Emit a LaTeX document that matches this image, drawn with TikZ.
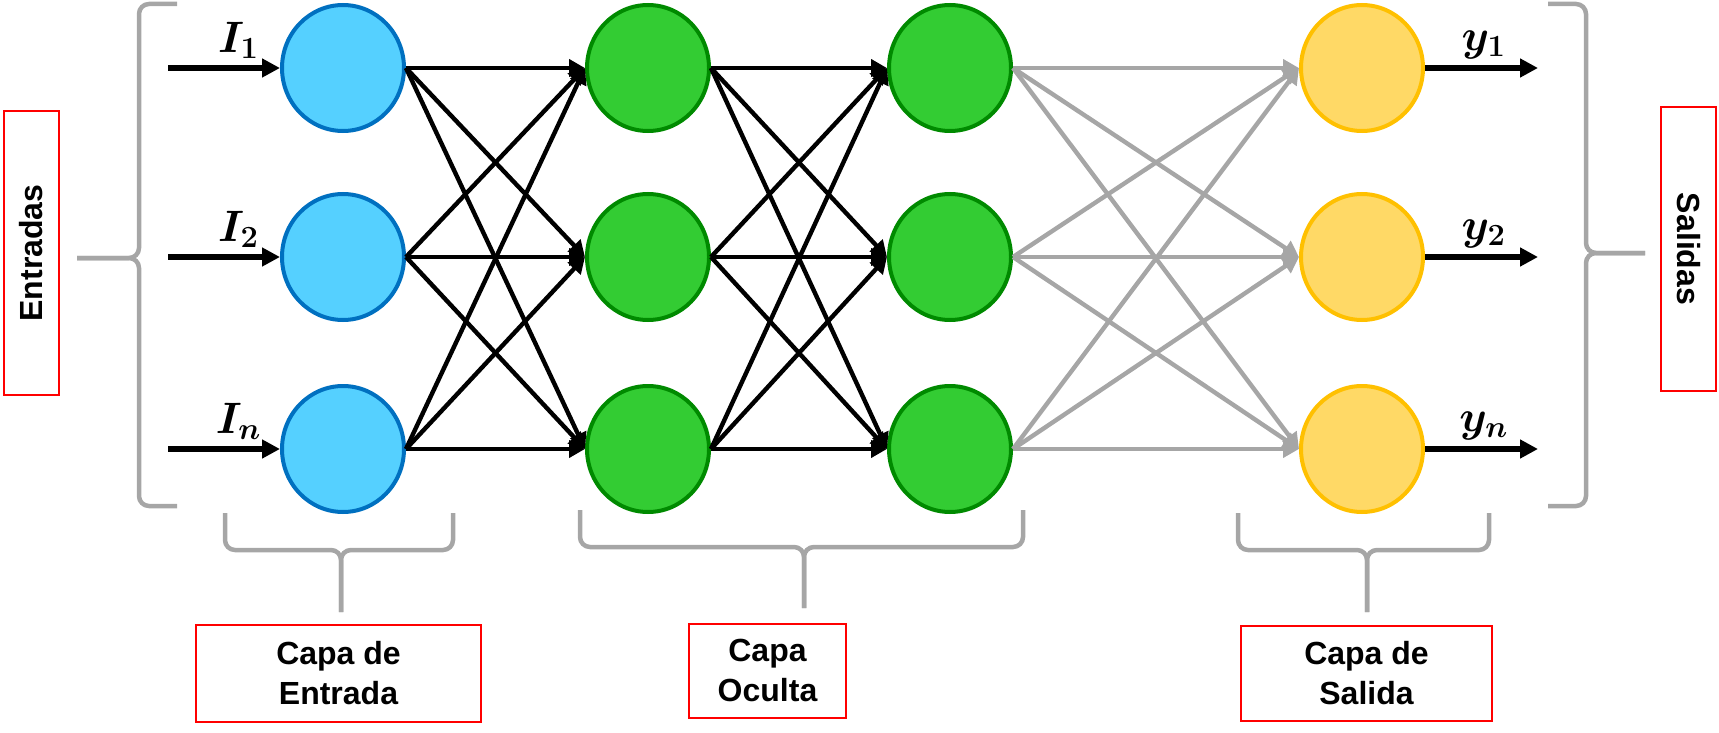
\RequirePackage{fix-cm}
\documentclass[tikz,border=0pt]{standalone}
\usepackage{amsmath,amssymb}
\usepackage{fontspec}
\setsansfont{Liberation Sans}
\usepackage{xcolor}
\usetikzlibrary{arrows.meta,shapes.geometric}
\definecolor{entfill}{HTML}{55D0FF}
\definecolor{entline}{HTML}{0070C0}
\definecolor{ocfill}{HTML}{33CC33}
\definecolor{ocline}{HTML}{008A00}
\definecolor{salfill}{HTML}{FFD966}
\definecolor{salline}{HTML}{FFC000}
\definecolor{bracegray}{HTML}{A6A6A6}
\tikzset{>={Triangle[length=8pt,width=8.5pt]}}
\tikzset{
	neuron/.style={ellipse,minimum width=61pt,minimum height=63pt,inner sep=0pt,line width=2pt},
	entneuron/.style={neuron,draw=entline,fill=entfill},
	ocneuron/.style={neuron,draw=ocline,fill=ocfill},
	salneuron/.style={neuron,draw=salline,fill=salfill},
	io/.style={line width=2.6pt,->,>={Triangle[length=9pt,width=9pt]}},
	conn/.style={line width=2.2pt,->},
	brace/.style={draw=bracegray,line width=2.25pt,rounded corners=5pt},
	lbl/.style={font=\fontsize{22}{26}\selectfont,above=0pt},
	capabox/.style={draw=red,line width=1pt,align=center,inner sep=0pt,
		font=\sffamily\bfseries\fontsize{16}{20}\selectfont}
}

\begin{document}
\begin{tikzpicture}[x=0.5pt,y=-0.5pt]
	\useasboundingbox (0,0) rectangle (1719,733);
	% neurons
	\foreach \r/\y in {1/68,2/257,3/449}{
		\node[entneuron] (ent\r) at (343,\y) {};
		\node[ocneuron] (ocA\r) at (648,\y) {};
		\node[ocneuron] (ocB\r) at (950,\y) {};
		\node[salneuron] (sal\r) at (1362,\y) {};
	}
	% inputs and outputs
	\foreach \r/\s/\y in {1/1/68,2/2/257,3/n/449}{
		\coordinate (in\r) at (168,\y);
		\coordinate (out\r) at (1538,\y);
		\draw[io] (in\r) -- node[lbl,pos=0.63]{$\boldsymbol{I_\s}$} (ent\r.west);
		\draw[io] (sal\r.east) -- node[lbl,pos=0.52]{$\boldsymbol{y_\s}$} (out\r);
	}
	% connections
	\foreach \a in {1,2,3}{
		\foreach \b in {1,2,3}{
			\draw[conn] (ent\a.east) -- (ocA\b.west);
			\draw[conn] (ocA\a.east) -- (ocB\b.west);
			\draw[conn,bracegray] (ocB\a.east) -- (sal\b.west);
		}
	}
	% side braces
	\draw[brace] (177,4) -- (139,4) -- (139,258) -- (77,258);
	\draw[brace] (177,506) -- (139,506) -- (139,258) -- (77,258);
	\draw[brace] (1548,4) -- (1586,4) -- (1586,253) -- (1645,253);
	\draw[brace] (1548,506) -- (1586,506) -- (1586,253) -- (1645,253);
	% layer braces
	\foreach \xl/\xt/\xr/\ya/\yb/\yc in {225/341/453/513/550/612,580/804/1023/510/547/608,1238/1367/1489/513/550/612}{
		\draw[brace] (\xl,\ya) -- (\xl,\yb) -- (\xt,\yb) -- (\xt,\yc);
		\draw[brace] (\xr,\ya) -- (\xr,\yb) -- (\xt,\yb) -- (\xt,\yc);
	}
	% labels
	\node[capabox,rotate=90,minimum width=141.5pt,minimum height=27.5pt] (entradas) at (31.5,253) {Entradas};
	\node[capabox,rotate=-90,minimum width=141.5pt,minimum height=27.5pt] (salidas) at (1688.5,249) {Salidas};
	\node[capabox,minimum width=142.5pt,minimum height=48.5pt] (capaent) at (338.5,673.5) {Capa de\\Entrada};
	\node[capabox,minimum width=78.5pt,minimum height=47pt] (capaoc) at (767.5,670.5) {Capa\\Oculta};
	\node[capabox,minimum width=125.5pt,minimum height=47.5pt] (capasal) at (1366.5,673.5) {Capa de\\Salida};
\end{tikzpicture}
\end{document}
